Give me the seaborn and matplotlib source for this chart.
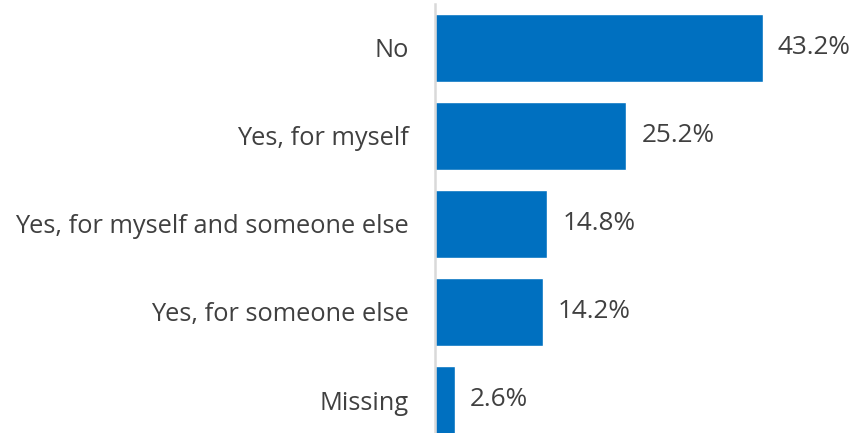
import matplotlib
matplotlib.use("Agg")
import matplotlib.pyplot as plt
import seaborn as sns
import pandas as pd

categories = ["No", "Yes, for myself", "Yes, for myself and someone else",
              "Yes, for someone else", "Missing"]
values = [43.2, 25.2, 14.8, 14.2, 2.6]
value_labels = ["43.2%", "25.2%", "14.8%", "14.2%", "2.6%"]

df = pd.DataFrame({"category": categories, "value": values})

sns.set_style("white")
plt.rcParams["font.family"] = ["Open Sans", "DejaVu Sans"]

fig = plt.figure(figsize=(8.52, 4.33), dpi=100)
ax = fig.add_axes([435 / 852, 1 - 444 / 433, 1 - 435 / 852, 440 / 433])

sns.barplot(data=df, x="value", y="category", order=categories,
            color="#0070C0", saturation=1, width=0.77, ax=ax)

ax.set_xlim(0, 55)
ax.set_ylim(4.5, -0.5)
ax.set_xlabel("")
ax.set_ylabel("")
ax.set_xticks([])

for spine in ["top", "right", "bottom"]:
    ax.spines[spine].set_visible(False)
ax.spines["left"].set_color("#d9d9d9")
ax.spines["left"].set_linewidth(1.8)

ax.tick_params(axis="y", length=0, pad=19, labelsize=18.3, labelcolor="#404040")

for container in ax.containers:
    ax.bar_label(container, labels=value_labels, padding=11,
                 fontsize=18.8, color="#404040")

fig.savefig("out.png", dpi=100)
